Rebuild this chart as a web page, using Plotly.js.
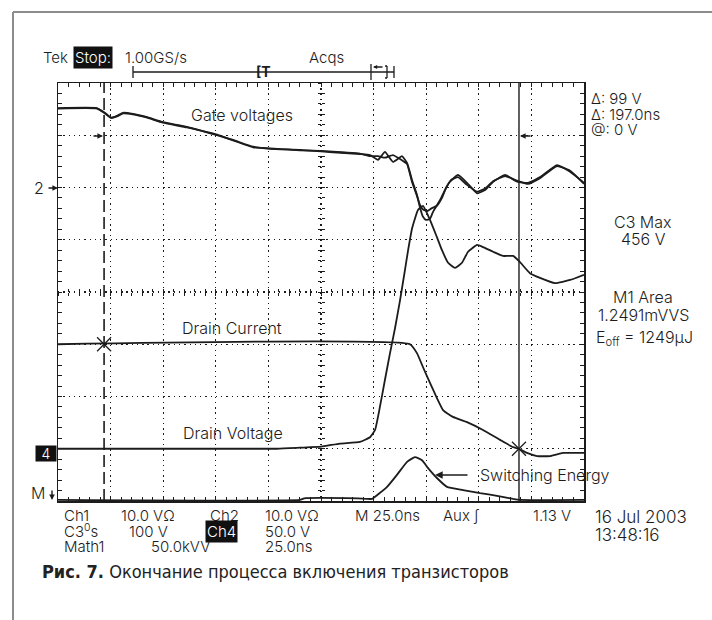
<!DOCTYPE html>
<html>
<head>
<meta charset="utf-8">
<script src="https://cdn.plot.ly/plotly-3.0.1.min.js"></script>
<style>
html,body{margin:0;padding:0;background:#fff;}
#chart{width:712px;height:620px;}
</style>
</head>
<body>
<div id="chart"></div>
<script>
// ---- data: time in ns (25 ns/div), amplitude in screen divisions (8 div) ----
const gateA_t = [0, 18.5, 21.9, 25.2, 28.0, 30.9, 35.6, 42, 49.9, 61.3, 75.6, 83.2, 92.7, 100.8, 115, 125, 136.4, 143.5, 148.3, 152.1, 155.4, 159.2, 163.5, 165.9, 168.3, 170.6, 172.1, 173.5, 174.9, 176.8, 178.2, 181.6, 183.9, 186.3, 190.1, 194.4, 199.2, 203.0, 206.8, 212.5, 218.2, 223.4, 229.1, 237.2, 243.4, 250];
const gateA_v = [7.52, 7.52, 7.43, 7.33, 7.37, 7.43, 7.41, 7.35, 7.25, 7.16, 7.00, 6.91, 6.78, 6.74, 6.72, 6.69, 6.66, 6.64, 6.62, 6.53, 6.68, 6.49, 6.60, 6.47, 6.14, 5.86, 5.61, 5.44, 5.38, 5.40, 5.53, 5.76, 5.95, 6.11, 6.24, 6.09, 5.89, 5.95, 6.11, 6.24, 6.11, 6.09, 6.20, 6.43, 6.30, 6.09];
const gateB_t = [0, 18.5, 21.9, 25.2, 28.0, 30.9, 35.6, 42, 49.9, 61.3, 75.6, 83.2, 92.7, 100.8, 115, 125, 136.4, 143.5, 148.3, 152.1, 155.4, 159.2, 163.5, 165.9, 168.3, 170.6, 172.1, 173.5, 175.5, 177.5, 180.1, 182.5, 184.5, 187, 190.1, 194.4, 199.2, 203.0, 206.8, 212.5, 218.2, 223.4, 229.1, 237.2, 243.4, 250];
const gateB_v = [7.51, 7.51, 7.44, 7.34, 7.36, 7.42, 7.40, 7.34, 7.24, 7.15, 7.01, 6.90, 6.77, 6.75, 6.71, 6.70, 6.67, 6.65, 6.60, 6.60, 6.57, 6.62, 6.52, 6.45, 6.10, 5.84, 5.66, 5.58, 5.55, 5.60, 5.65, 5.80, 6.00, 6.15, 6.20, 6.05, 5.92, 5.98, 6.12, 6.22, 6.13, 6.07, 6.18, 6.41, 6.32, 6.07];
const drainV_t = [0, 104, 115, 125, 134, 143.5, 148.3, 150.7, 153.0, 155.4, 157.8, 160.2, 162.6, 164.9, 166.4, 168.3, 171.1, 173.5, 176.8, 180.1, 182.5, 185.4, 188.7, 192.0, 194.9, 199.2, 202.0, 206.8, 211.5, 216.3, 219.6, 224.3, 229.1, 236.2, 243.4, 250];
const drainV_v = [1.00, 1.00, 1.02, 1.04, 1.10, 1.13, 1.22, 1.36, 1.80, 2.32, 2.83, 3.31, 3.85, 4.42, 4.80, 5.22, 5.57, 5.65, 5.38, 5.05, 4.80, 4.56, 4.46, 4.56, 4.77, 4.90, 4.86, 4.77, 4.69, 4.69, 4.57, 4.36, 4.27, 4.17, 4.23, 4.33];
const drainI_t = [0, 167.3, 170.6, 173.5, 176.8, 180.1, 183.0, 187.7, 194.4, 202.0, 210.1, 216.3, 219.1, 222.9, 227.7, 233.9, 240.0, 250];
const drainI_v = [3.00, 3.00, 2.83, 2.56, 2.26, 1.97, 1.74, 1.61, 1.51, 1.36, 1.17, 1.03, 1.00, 0.92, 0.86, 0.86, 0.92, 0.92];
const energy_t = [0, 115, 117, 142.6, 149.3, 151.6, 156.4, 161.1, 165.9, 169.7, 173.0, 175.9, 180.1, 184.9, 192.5, 200.6, 208.7, 216.3, 219.6, 250];
const energy_v = [0.02, 0.02, 0.05, 0.05, 0.04, 0.11, 0.27, 0.50, 0.75, 0.84, 0.78, 0.63, 0.44, 0.27, 0.21, 0.15, 0.10, 0.04, 0.02, 0.02];
const cursorTimes = [21.9, 219.1];
const cursorLevels = [3.00, 1.00];

// ---- geometry helpers (pixel -> paper) ----
const L = 58, R = 584, T = 83, B = 501;
const px = x => (x - L) / (R - L);
const py = y => (B - y) / (B - T);

const ink = '#1c1c1c';
const scopeFont = 'Inter, "DejaVu Sans", sans-serif';

function line(t, v) {
  return {x: t, y: v, type: 'scatter', mode: 'lines', hoverinfo: 'skip',
          line: {color: ink, width: 1.8, shape: 'spline', smoothing: 0.4}, showlegend: false};
}

const traces = [
  line(gateA_t, gateA_v),
  line(gateB_t, gateB_v),
  line(drainV_t, drainV_v),
  line(drainI_t, drainI_v),
  line(energy_t, energy_v),
  {x: [cursorTimes[0], cursorTimes[0]], y: [0, 8], type: 'scatter', mode: 'lines', hoverinfo: 'skip',
   line: {color: ink, width: 1.6, dash: '12px,5px'}, showlegend: false},
  {x: [cursorTimes[1], cursorTimes[1]], y: [0, 8], type: 'scatter', mode: 'lines', hoverinfo: 'skip',
   line: {color: ink, width: 1.4}, showlegend: false},
  {x: cursorTimes, y: cursorLevels, type: 'scatter', mode: 'markers', hoverinfo: 'skip',
   marker: {symbol: 'x-thin', size: 14, line: {color: ink, width: 1.2}}, showlegend: false}
];

function txt(x, y, text, o) {
  o = o || {};
  return Object.assign({
    xref: 'paper', yref: 'paper', x: px(x), y: py(y), text: text, showarrow: false,
    xanchor: o.xa || 'left', yanchor: 'middle',
    font: {family: o.family || scopeFont, size: o.size || 16, color: o.color || ink, weight: o.weight || 300}
  }, o.extra || {});
}
function arrow(x, y, ax, ay, size) {
  return {xref: 'paper', yref: 'paper', x: px(x), y: py(y), ax: ax, ay: ay, axref: 'pixel', ayref: 'pixel',
          text: '', showarrow: true, arrowhead: 2, arrowsize: size || 1, arrowwidth: 1.4, arrowcolor: ink};
}

const annotations = [
  txt(41, 57, 'Tek', {size: 15}),
  txt(73, 57, 'Stop:', {size: 15, color: '#fff', extra: {bgcolor: '#111', borderpad: 1}}),
  txt(123, 57, '1.00GS/s', {size: 15}),
  txt(307, 57, 'Acqs', {size: 15}),
  txt(254, 72, '[T', {size: 14, weight: 700}),
  txt(589, 99, 'Δ: 99 V', {size: 15}),
  txt(589, 114, 'Δ: 197.0ns', {size: 15}),
  txt(589, 129, '@: 0 V', {size: 15}),
  txt(643, 222, 'C3 Max', {xa: 'center'}),
  txt(643, 239, '456 V', {xa: 'center'}),
  txt(643, 297, 'M1 Area', {xa: 'center'}),
  txt(643, 315, '1.2491mVVS', {xa: 'center'}),
  txt(594, 338, 'E<sub>off</sub> = 1249μJ'),
  txt(242, 115, 'Gate voltages', {xa: 'center'}),
  txt(232, 328, 'Drain Current', {xa: 'center'}),
  txt(233, 433, 'Drain Voltage', {xa: 'center'}),
  txt(478, 475, 'Switching Energy'),
  txt(46, 188, '2', {xa: 'right'}),
  txt(57, 453, '4', {xa: 'right', color: '#fff', size: 14, extra: {bgcolor: '#111', width: 18, height: 13, borderpad: 1}}),
  txt(47, 493, 'M', {xa: 'right'}),
  // bottom status rows
  txt(62, 515, 'Ch1', {size: 15}),
  txt(119, 515, '10.0 VΩ', {size: 15}),
  txt(208, 515, 'Ch2', {size: 15}),
  txt(263, 515, '10.0 VΩ', {size: 15}),
  txt(353, 515, 'M 25.0ns', {size: 15}),
  txt(441, 515, 'Aux ʃ', {size: 15}),
  txt(531, 515, '1.13 V', {size: 15}),
  txt(593, 517, '16 Jul 2003', {size: 17}),
  txt(593, 535, '13:48:16', {size: 17}),
  txt(62, 531, 'C3<sup>0</sup>s', {size: 15}),
  txt(127, 531, '100 V', {size: 15}),
  txt(205, 531, 'Ch4', {size: 15, color: '#fff', extra: {bgcolor: '#111', borderpad: 1}}),
  txt(263, 531, '50.0 V', {size: 15}),
  txt(62, 546, 'Math1', {size: 15}),
  txt(149, 546, '50.0kVV', {size: 15}),
  txt(263, 546, '25.0ns', {size: 15}),
  // caption
  txt(40, 571, '<b>Рис. 7.</b> Окончание процесса включения транзисторов',
      {family: '"Liberation Sans Narrow", "DejaVu Sans Condensed", sans-serif', size: 18, color: '#222', weight: 400}),
  // arrows
  arrow(58, 188, -11, 0, 0.8),
  arrow(52, 500, 0, -11, 0.8),
  arrow(103, 136, -11, 0, 0.8),
  arrow(520, 136, 12, 0, 0.8),
  arrow(435, 475, 34, 0, 1.1),
  arrow(373, 67, 11, 0, 0.6)
];

function seg(x0, y0, x1, y1, color, width) {
  return {type: 'line', xref: 'paper', yref: 'paper', x0: px(x0), y0: py(y0), x1: px(x1), y1: py(y1),
          line: {color: color || ink, width: width || 1.3}};
}
const shapes = [
  seg(13, 12, 712, 12, '#8c8c8c', 2),
  seg(13, 12, 13, 620, '#8c8c8c', 2),
  seg(133, 72, 394, 72),
  seg(133, 66, 133, 78),
  seg(371, 64, 371, 80),
  seg(394, 66, 394, 78),
  seg(385, 66, 387, 66), seg(387, 66, 387, 78), seg(385, 78, 387, 78)
];

const axBase = {showticklabels: false, zeroline: false, fixedrange: true};
const layout = {
  width: 712, height: 620,
  margin: {l: L, r: 712 - R, t: T, b: 620 - B, pad: 0},
  paper_bgcolor: '#fff', plot_bgcolor: 'rgba(0,0,0,0)',
  showlegend: false,
  xaxis: Object.assign({}, axBase, {
    range: [0, 250], tick0: 0, dtick: 25, showgrid: true, gridcolor: '#1a1a1a', gridwidth: 1.2,
    griddash: '1.4px,3.83px', showline: true, mirror: 'allticks', linecolor: ink, linewidth: 1.5,
    ticks: 'inside', ticklen: 4, tickcolor: ink, tickwidth: 1,
    minor: {dtick: 5, tick0: 0, ticks: 'inside', ticklen: 4, tickcolor: ink, tickwidth: 1, showgrid: false}
  }),
  xaxis2: Object.assign({}, axBase, {
    range: [0, 250], overlaying: 'x', anchor: 'free', position: 0.5, showgrid: false, showline: false,
    tick0: 0, dtick: 5, ticks: 'outside', ticklen: 3, tickcolor: ink, tickwidth: 1
  }),
  xaxis3: Object.assign({}, axBase, {
    range: [0, 250], overlaying: 'x', anchor: 'free', position: 0.5, showgrid: false, showline: false,
    tick0: 0, dtick: 5, ticks: 'inside', ticklen: 3, tickcolor: ink, tickwidth: 1
  }),
  yaxis: Object.assign({}, axBase, {
    range: [0, 8], tick0: 0, dtick: 1, showgrid: true, gridcolor: '#1a1a1a', gridwidth: 1.2,
    griddash: '1.4px,3.86px', showline: true, mirror: 'allticks', linecolor: ink, linewidth: 1.5,
    ticks: 'inside', ticklen: 4, tickcolor: ink, tickwidth: 1,
    minor: {dtick: 0.2, tick0: 0, ticks: 'inside', ticklen: 4, tickcolor: ink, tickwidth: 1, showgrid: false}
  }),
  yaxis2: Object.assign({}, axBase, {
    range: [0, 8], overlaying: 'y', anchor: 'free', position: 0.5, showgrid: false, showline: false,
    tick0: 0, dtick: 0.2, ticks: 'outside', ticklen: 3, tickcolor: ink, tickwidth: 1
  }),
  yaxis3: Object.assign({}, axBase, {
    range: [0, 8], overlaying: 'y', anchor: 'free', position: 0.5, showgrid: false, showline: false,
    tick0: 0, dtick: 0.2, ticks: 'inside', ticklen: 3, tickcolor: ink, tickwidth: 1
  }),
  annotations: annotations,
  shapes: shapes
};

// invisible helper traces to activate the centre-tick axes
traces.push({x: [0], y: [0], xaxis: 'x2', yaxis: 'y2', mode: 'markers', marker: {opacity: 0}, hoverinfo: 'skip', showlegend: false});
traces.push({x: [0], y: [0], xaxis: 'x3', yaxis: 'y3', mode: 'markers', marker: {opacity: 0}, hoverinfo: 'skip', showlegend: false});

Plotly.newPlot('chart', traces, layout, {displayModeBar: false, staticPlot: true});
</script>
</body>
</html>
